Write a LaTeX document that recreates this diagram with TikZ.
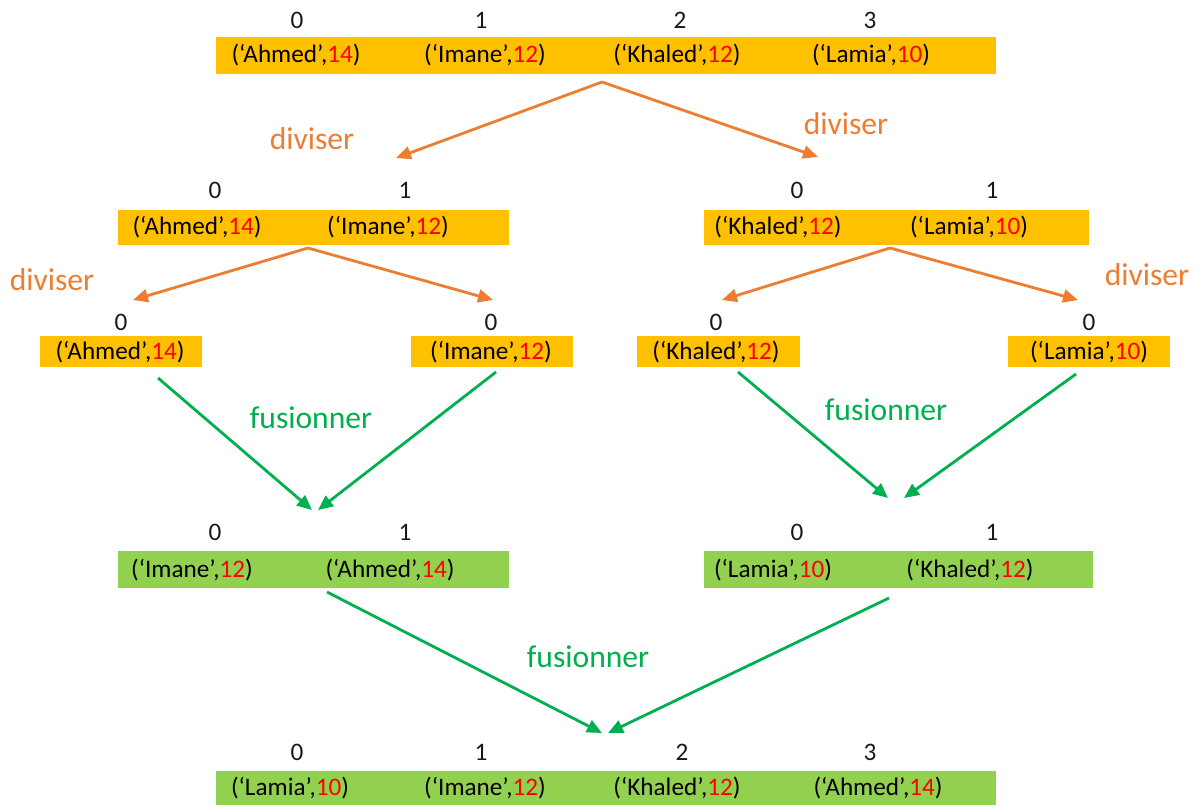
\documentclass[tikz,border=0pt]{standalone}
\usepackage{fontspec}
\setmainfont{Carlito}
\usetikzlibrary{arrows.meta,fit}

\definecolor{barorange}{HTML}{FFC000}
\definecolor{bargreen}{HTML}{92D050}
\definecolor{divorange}{HTML}{ED7D31}
\definecolor{fusgreen}{HTML}{00B050}
\definecolor{numred}{HTML}{FF0000}

% one (name, grade) entry of a list
\newcommand\entry[2]{(‘#1’,\textcolor{numred}{#2})}

\tikzset{
  obar/.style={fill=barorange, draw=none, inner sep=0pt},
  gbar/.style={fill=bargreen, draw=none, inner sep=0pt},
  entrytxt/.style={font=\fontsize{12.6}{15}\selectfont, text=black, inner sep=0pt},
  idx/.style={font=\fontsize{12.6}{15}\selectfont, text=black!90, inner sep=0pt},
  divarrow/.style={draw=divorange, line width=1.4pt, -{Triangle[length=7.5pt,width=6.5pt]}},
  fusarrow/.style={draw=fusgreen, line width=1.4pt, -{Triangle[length=7.5pt,width=6.5pt]}},
  divlbl/.style={font=\fontsize{15.8}{18}\selectfont, text=divorange, inner sep=0pt},
  fuslbl/.style={font=\fontsize{15.8}{18}\selectfont, text=fusgreen, inner sep=0pt},
}

\begin{document}
\begin{tikzpicture}[x=0.5pt, y=-0.5pt]
\useasboundingbox (0,0) rectangle (1197,804);

% ---------- level 0: full list ----------
\node[obar, fit={(216,37) (996,74)}] (top) {};
\foreach \x/\i in {297/0,481/1,680/2,870/3} \node[idx] at (\x,20) {\i};
\node[entrytxt] (t0) at (296,55) {\entry{Ahmed}{14}};
\node[entrytxt] (t1) at (485,55) {\entry{Imane}{12}};
\node[entrytxt] (t2) at (677,55) {\entry{Khaled}{12}};
\node[entrytxt] (t3) at (871,55) {\entry{Lamia}{10}};

% ---------- level 1: halves ----------
\node[obar, fit={(118,210) (509,245)}] (hl) {};
\node[idx] at (215,190) {0}; \node[idx] at (405,190) {1};
\node[entrytxt] (hl0) at (197,227) {\entry{Ahmed}{14}};
\node[entrytxt] (hl1) at (388,227) {\entry{Imane}{12}};

\node[obar, fit={(704,210) (1089,245)}] (hr) {};
\node[idx] at (797,190) {0}; \node[idx] at (992,190) {1};
\node[entrytxt] (hr0) at (778,227) {\entry{Khaled}{12}};
\node[entrytxt] (hr1) at (969,227) {\entry{Lamia}{10}};

% ---------- level 2: single elements ----------
\node[obar, fit={(40,336) (202,367)}] (s0) {};
\node[idx] at (121,322) {0};
\node[entrytxt] (s0t) at (120,352) {\entry{Ahmed}{14}};

\node[obar, fit={(411,336) (573,367)}] (s1) {};
\node[idx] at (491,322) {0};
\node[entrytxt] (s1t) at (491,352) {\entry{Imane}{12}};

\node[obar, fit={(637,336) (800,367)}] (s2) {};
\node[idx] at (716,322) {0};
\node[entrytxt] (s2t) at (716,352) {\entry{Khaled}{12}};

\node[obar, fit={(1008,336) (1170,367)}] (s3) {};
\node[idx] at (1089,322) {0};
\node[entrytxt] (s3t) at (1089,352) {\entry{Lamia}{10}};

% ---------- level 3: merged halves ----------
\node[gbar, fit={(118,551) (509,588)}] (ml) {};
\node[idx] at (215,532) {0}; \node[idx] at (405,532) {1};
\node[entrytxt] (ml0) at (192,570) {\entry{Imane}{12}};
\node[entrytxt] (ml1) at (390,570) {\entry{Ahmed}{14}};

\node[gbar, fit={(704,551) (1093,588)}] (mr) {};
\node[idx] at (797,532) {0}; \node[idx] at (992,532) {1};
\node[entrytxt] (mr0) at (773,570) {\entry{Lamia}{10}};
\node[entrytxt] (mr1) at (970,570) {\entry{Khaled}{12}};

% ---------- level 4: sorted list ----------
\node[gbar, fit={(216,771) (996,805)}] (res) {};
\foreach \x/\i in {297/0,481/1,682/2,870/3} \node[idx] at (\x,752) {\i};
\node[entrytxt] (r0) at (290,788) {\entry{Lamia}{10}};
\node[entrytxt] (r1) at (485,788) {\entry{Imane}{12}};
\node[entrytxt] (r2) at (677,788) {\entry{Khaled}{12}};
\node[entrytxt] (r3) at (878,788) {\entry{Ahmed}{14}};

% ---------- arrow end points ----------
\coordinate (dTop) at (602,82);
\coordinate (dTopL) at (396,158);
\coordinate (dTopR) at (818,157);
\coordinate (dL) at (308,248);
\coordinate (dLL) at (133,300);
\coordinate (dLR) at (493,300);
\coordinate (dR) at (890,248);
\coordinate (dRL) at (722,300);
\coordinate (dRR) at (1078,300);

\coordinate (f0) at (158,378);
\coordinate (f1) at (496,372);
\coordinate (fL) at (312,510);
\coordinate (fL2) at (318,510);
\coordinate (f2) at (738,372);
\coordinate (f3) at (1076,374);
\coordinate (fR) at (888,498);
\coordinate (fR2) at (904,498);
\coordinate (fm0) at (327,592);
\coordinate (fm1) at (889,598);
\coordinate (fB) at (602,733);
\coordinate (fB2) at (608,733);

% ---------- split arrows ----------
\draw[divarrow] (dTop) -- (dTopL);
\draw[divarrow] (dTop) -- (dTopR);
\draw[divarrow] (dL) -- (dLL);
\draw[divarrow] (dL) -- (dLR);
\draw[divarrow] (dR) -- (dRL);
\draw[divarrow] (dR) -- (dRR);

\node[divlbl] at (312,139) {diviser};
\node[divlbl] at (846,124) {diviser};
\node[divlbl] at (52,280) {diviser};
\node[divlbl] at (1147,275) {diviser};

% ---------- merge arrows ----------
\draw[fusarrow] (f0) -- (fL);
\draw[fusarrow] (f1) -- (fL2);
\draw[fusarrow] (f2) -- (fR);
\draw[fusarrow] (f3) -- (fR2);
\draw[fusarrow] (fm0) -- (fB);
\draw[fusarrow] (fm1) -- (fB2);

\node[fuslbl] at (311,418) {fusionner};
\node[fuslbl] at (886,410) {fusionner};
\node[fuslbl] at (588,657) {fusionner};
\end{tikzpicture}
\end{document}
